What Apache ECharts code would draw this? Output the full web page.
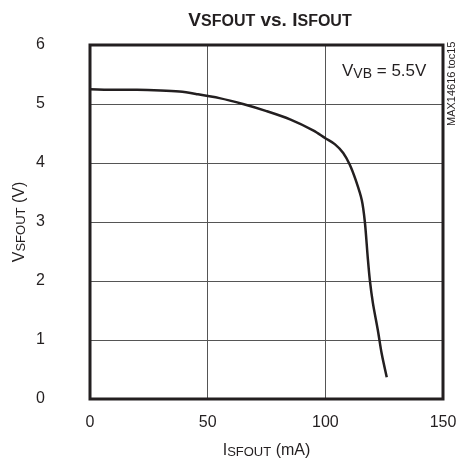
<!DOCTYPE html>
<html>
<head>
<meta charset="utf-8">
<script src="https://cdn.jsdelivr.net/npm/echarts@6/dist/echarts.min.js"></script>
<style>
  html, body { margin: 0; padding: 0; background: #fff; }
  #chart { width: 461px; height: 466px; }
</style>
</head>
<body>
<div id="chart"></div>
<script>
// ISFOUT (mA) vs VSFOUT (V)
const currentMA = [0, 10, 20, 30, 38, 45, 55, 65, 75, 85, 95, 100, 104, 107.6, 110.4, 113, 115.5, 116.8, 118, 118.9, 120.2, 122.3, 123.9, 126.1];
const voltageV = [5.25, 5.24, 5.24, 5.23, 5.21, 5.17, 5.1, 5.0, 4.88, 4.74, 4.55, 4.42, 4.32, 4.17, 3.97, 3.7, 3.37, 3.0, 2.41, 2.02, 1.63, 1.17, 0.78, 0.37];
const xTicks = [0, 50, 100, 150];
const yTicks = [0, 1, 2, 3, 4, 5, 6];

const ink = '#231f20';
const font = '"Liberation Sans", Arial, sans-serif';

const chart = echarts.init(document.getElementById('chart'));

const subRich = {
  b: { fontSize: 16, fontFamily: font, color: ink },
  s: { fontSize: 13, fontFamily: font, color: ink, padding: [3, 0, 0, 0] }
};

chart.setOption({
  animation: false,
  title: {
    text: '{b|V}{s|SFOUT}{b| vs. I}{s|SFOUT}',
    left: 265,
    textAlign: 'center',
    top: 6,
    textStyle: {
      rich: {
        b: { fontSize: 19, fontWeight: 'bold', fontFamily: font, color: ink },
        s: { fontSize: 16, fontWeight: 'bold', fontFamily: font, color: ink, padding: [3, 0, 0, 0] }
      }
    }
  },
  grid: { left: 90, right: 18, top: 45, bottom: 67 },
  xAxis: {
    type: 'value',
    min: 0, max: 150, interval: 50,
    name: '{b|I}{s|SFOUT}{b| (mA)}',
    nameLocation: 'middle',
    nameGap: 44,
    nameTextStyle: { rich: subRich },
    axisLine: { show: false },
    axisTick: { show: false },
    axisLabel: {
      fontSize: 16, fontFamily: font, color: ink, margin: 16,
      formatter: v => xTicks.includes(v) ? String(v) : ''
    },
    splitLine: { lineStyle: { color: '#555', width: 1 } }
  },
  yAxis: {
    type: 'value',
    min: 0, max: 6, interval: 1,
    name: '{b|V}{s|SFOUT}{b| (V)}',
    nameLocation: 'middle',
    nameRotate: 90,
    nameGap: 62,
    nameMoveOverlap: false,
    nameTextStyle: { rich: subRich },
    axisLine: { show: false },
    axisTick: { show: false },
    axisLabel: {
      fontSize: 16, fontFamily: font, color: ink, margin: 45, align: 'right',
      formatter: v => yTicks.includes(v) ? String(v) : ''
    },
    splitLine: { lineStyle: { color: '#555', width: 1 } }
  },
  graphic: [
    {
      type: 'rect',
      shape: { x: 90, y: 45, width: 353, height: 354 },
      style: { fill: 'none', stroke: ink, lineWidth: 3 },
      z: 10
    },
    {
      type: 'text',
      x: 342, y: 62,
      style: {
        text: '{b|V}{s|VB}{b| = 5.5V}',
        rich: {
          b: { fontSize: 17, fontFamily: font, fill: ink },
          s: { fontSize: 14, fontFamily: font, fill: ink, padding: [5, 0, 0, 0] }
        }
      },
      z: 10
    },
    {
      type: 'text',
      x: 446, y: 126,
      rotation: Math.PI / 2,
      style: { text: 'MAX14616 toc15', fontSize: 11, fontFamily: font, fill: ink },
      z: 10
    }
  ],
  series: [{
    type: 'line',
    data: currentMA.map((x, i) => [x, voltageV[i]]),
    smooth: 0.3,
    symbol: 'none',
    lineStyle: { color: ink, width: 2.5 },
    z: 5
  }]
});
</script>
</body>
</html>
